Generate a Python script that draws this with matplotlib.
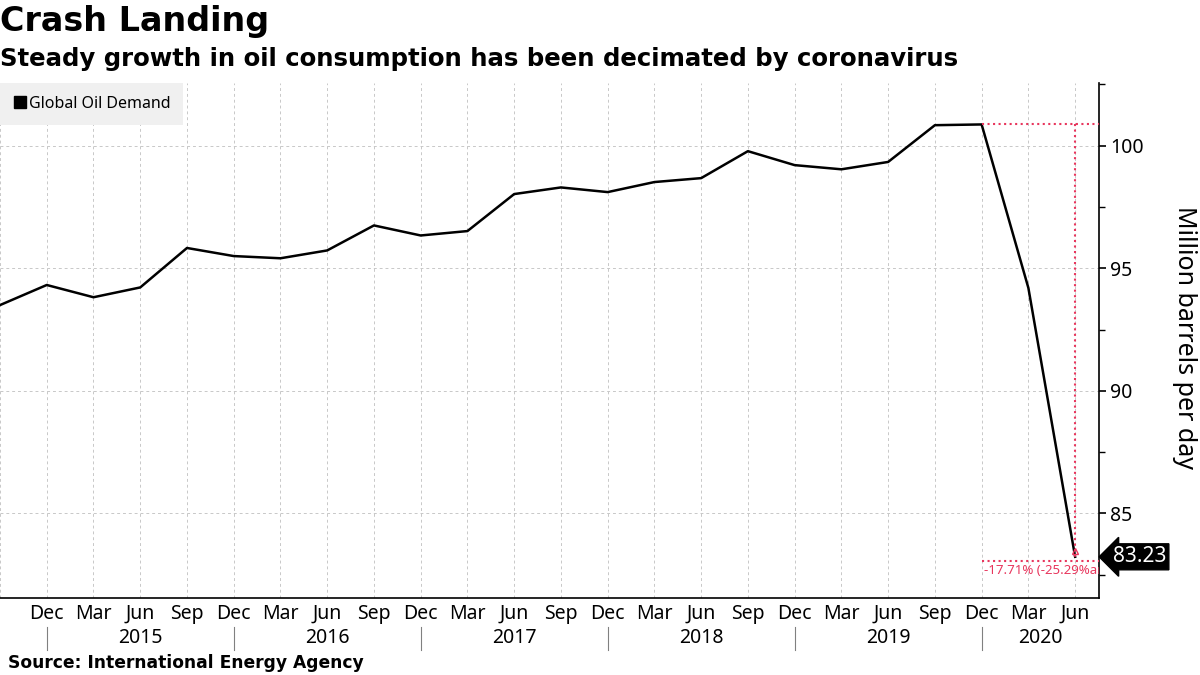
import matplotlib.pyplot as plt
import matplotlib.transforms as mtransforms
from matplotlib.lines import Line2D

# quarterly global oil demand, million barrels per day
demand = [93.50, 94.32, 93.82, 94.22, 95.83, 95.50, 95.41, 95.73, 96.75, 96.34,
          96.52, 98.03, 98.30, 98.11, 98.52, 98.68, 99.78, 99.21, 99.04, 99.34,
          100.84, 100.87, 94.20, 83.23]
quarter_labels = ["Dec", "Mar", "Jun", "Sep"] * 5 + ["Dec", "Mar", "Jun"]
years = ["2015", "2016", "2017", "2018", "2019", "2020"]
change_text = "-17.71% (-25.29%an"

RED = "#e8365d"
GRID = "#c8c8c8"

plt.rcParams["font.family"] = ["Noto Sans", "DejaVu Sans"]

fig = plt.figure(figsize=(12, 6.75), dpi=100)
ax = fig.add_axes([0.0, 0.1141, 0.9158, 0.7629])

x = list(range(len(demand)))
ax.plot(x, demand, color="black", linewidth=1.8, zorder=3)

ax.set_xlim(0, 23.51)
ax.set_ylim(81.55, 102.56)

# grid
for xi in x:
    ax.axvline(xi, color=GRID, linestyle=(0, (3, 3)), linewidth=0.7, zorder=1)
for yv in [85, 90, 95, 100]:
    ax.axhline(yv, color=GRID, linestyle=(0, (3, 3)), linewidth=0.7, zorder=1)

# axes styling
for side in ["top", "left"]:
    ax.spines[side].set_visible(False)
ax.spines["right"].set_linewidth(1.2)
ax.spines["bottom"].set_linewidth(1.2)
ax.yaxis.tick_right()
ax.set_yticks([85, 90, 95, 100])
ax.set_yticks([82.5, 87.5, 92.5, 97.5, 102.5], minor=True)
ax.tick_params(axis="y", which="major", length=5, width=1.2, labelsize=14, pad=3)
ax.tick_params(axis="y", which="minor", length=4, width=1)
ax.set_xticks(x[1:])
ax.set_xticklabels(quarter_labels)
ax.tick_params(axis="x", length=0, labelsize=14, pad=4)

fig.text(1185 / 1200, 1 - 338 / 675, "Million barrels per day", rotation=270,
         ha="center", va="center", fontsize=18)

# year labels and separators
trans = mtransforms.blended_transform_factory(ax.transData, ax.transAxes)
for i, yr in enumerate(years):
    sep = 1 + 4 * i
    ax.plot([sep, sep], [-0.056, -0.101], color="#808080", linewidth=0.8,
            transform=trans, clip_on=False)
    center = sep + 2 if i < len(years) - 1 else (sep + 23.51) / 2
    ax.text(center, -0.078, yr, transform=trans, ha="center", va="center",
            fontsize=14)

# change annotation
peak_i, last_i = 21, len(demand) - 1
ax.plot([peak_i, 23.51], [demand[peak_i]] * 2, color=RED, linestyle=":",
        linewidth=1.5, zorder=4, clip_on=False)
ax.plot([last_i, last_i], [demand[peak_i], demand[last_i]], color=RED,
        linestyle=":", linewidth=1.5, zorder=4)
ax.plot(last_i, demand[last_i] + 0.25, marker="^", markersize=5,
        markerfacecolor="none", markeredgecolor=RED, zorder=4)
down = mtransforms.offset_copy(ax.transData, fig=fig, x=0, y=-4, units="dots")
ax.plot([peak_i, 23.51], [demand[last_i]] * 2, color=RED, linestyle=":",
        linewidth=1.5, zorder=4, transform=down)
ax.text(peak_i + 0.06, demand[last_i], change_text, color=RED, fontsize=9.5,
        ha="left", va="top", transform=mtransforms.offset_copy(
            ax.transData, fig=fig, x=0, y=-7, units="dots"), clip_on=True)

# last value tag
ax.annotate(f"{demand[last_i]:.2f}", xy=(1.0, demand[last_i]),
            xycoords=("axes fraction", "data"), xytext=(10, 0),
            textcoords="offset points", ha="left", va="center",
            color="white", fontsize=15,
            bbox=dict(boxstyle="larrow,pad=0.12", fc="black", ec="black"))

# legend
handle = Line2D([], [], marker="s", color="black", linestyle="none",
                markersize=8)
leg = ax.legend([handle], ["Global Oil Demand"], loc="upper left",
                bbox_to_anchor=(0, 1), borderaxespad=0, frameon=True,
                fontsize=11.5, handletextpad=0.1, handlelength=0.9,
                borderpad=0.8, fancybox=False)
leg.get_frame().set_facecolor("#f0f0f0")
leg.get_frame().set_edgecolor("none")
leg.get_frame().set_alpha(1)

# titles and source
fig.text(0.0, 1 - 22 / 675, "Crash Landing", fontsize=24, fontweight="bold",
         family="DejaVu Sans", ha="left", va="center")
fig.text(0.0, 1 - 59 / 675,
         "Steady growth in oil consumption has been decimated by coronavirus",
         fontsize=17.6, fontweight="bold", family="DejaVu Sans", ha="left",
         va="center")
fig.text(8 / 1200, 1 - 663 / 675, "Source: International Energy Agency",
         fontsize=12.3, fontweight="bold", family="DejaVu Sans", ha="left",
         va="center")

fig.savefig("out.png", dpi=100)
